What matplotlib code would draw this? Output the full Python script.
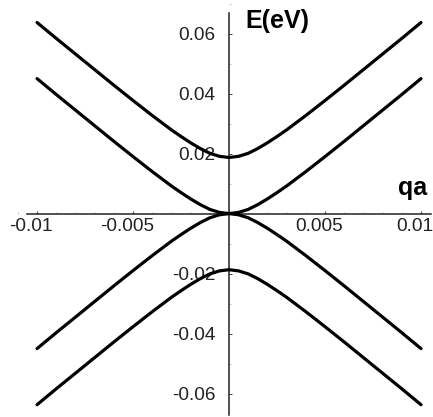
import numpy as np
import matplotlib
matplotlib.use('Agg')
import matplotlib.pyplot as plt
import matplotlib.transforms as mtransforms
from matplotlib.ticker import MultipleLocator

plt.rcParams['font.family'] = ['Liberation Sans', 'DejaVu Sans']

# wave vector (qa) and the four energy bands in eV
qa = [-0.01, -0.009, -0.008, -0.007, -0.006, -0.005, -0.004, -0.003,
      -0.0025, -0.002, -0.0015, -0.001, -0.0005, 0.0,
      0.0005, 0.001, 0.0015, 0.002, 0.0025,
      0.003, 0.004, 0.005, 0.006, 0.007, 0.008, 0.009, 0.01]

band_outer_up = [0.0637, 0.0584, 0.0532, 0.0480, 0.0428, 0.0377, 0.0327, 0.0279,
                 0.0257, 0.0236, 0.0217, 0.0201, 0.0191, 0.0187,
                 0.0191, 0.0201, 0.0217, 0.0236, 0.0257,
                 0.0279, 0.0327, 0.0377, 0.0428, 0.0480, 0.0532, 0.0584, 0.0637]
band_inner_up = [0.0450, 0.0397, 0.0345, 0.0293, 0.0241, 0.0190, 0.0140, 0.0092,
                 0.0070, 0.0049, 0.0030, 0.0014, 0.0004, 0.0,
                 0.0004, 0.0014, 0.0030, 0.0049, 0.0070,
                 0.0092, 0.0140, 0.0190, 0.0241, 0.0293, 0.0345, 0.0397, 0.0450]
band_inner_down = [-0.0450, -0.0397, -0.0345, -0.0293, -0.0241, -0.0190, -0.0140, -0.0092,
                   -0.0070, -0.0049, -0.0030, -0.0014, -0.0004, 0.0,
                   -0.0004, -0.0014, -0.0030, -0.0049, -0.0070,
                   -0.0092, -0.0140, -0.0190, -0.0241, -0.0293, -0.0345, -0.0397, -0.0450]
band_outer_down = [-0.0637, -0.0584, -0.0532, -0.0480, -0.0428, -0.0377, -0.0327, -0.0279,
                   -0.0257, -0.0236, -0.0217, -0.0201, -0.0191, -0.0187,
                   -0.0191, -0.0201, -0.0217, -0.0236, -0.0257,
                   -0.0279, -0.0327, -0.0377, -0.0428, -0.0480, -0.0532, -0.0584, -0.0637]

x_ticks = [-0.01, -0.005, 0.005, 0.01]
x_labels = ['-0.01', '-0.005', '0.005', '0.01']
y_ticks = [-0.06, -0.04, -0.02, 0.02, 0.04, 0.06]
y_labels = ['-0.06', '-0.04', '-0.02', '0.02', '0.04', '0.06']

fig = plt.figure(figsize=(4.33, 4.17), dpi=100)
ax = fig.add_axes([0, 0, 1, 1])

for band in [band_outer_up, band_inner_up, band_inner_down, band_outer_down]:
    ax.plot(qa, band, color='black', lw=2.3, solid_capstyle='round', zorder=3)

ax.set_xlim(-0.01193, 0.010625)
ax.set_ylim(-0.0678, 0.0712)

# axes crossing at the origin
for s in ['top', 'right']:
    ax.spines[s].set_visible(False)
ax.spines['left'].set_position(('data', 0))
ax.spines['bottom'].set_position(('data', 0))
ax.spines['left'].set_bounds(-0.067, 0.067)
ax.spines['bottom'].set_bounds(-0.0105, 0.0105)
for s in ['left', 'bottom']:
    ax.spines[s].set_linewidth(1.1)
    ax.spines[s].set_color('#222222')

ax.set_xticks(x_ticks)
ax.set_xticklabels(x_labels)
ax.set_yticks(y_ticks)
ax.set_yticklabels(y_labels)
ax.xaxis.set_minor_locator(MultipleLocator(0.001))
ax.yaxis.set_minor_locator(MultipleLocator(0.01))
ax.tick_params(axis='both', which='major', direction='in', length=2.5, width=0.7,
               colors='#444444', labelsize=13.7, labelcolor='#222222')
ax.tick_params(axis='both', which='minor', direction='in', length=1.5, width=0.5,
               colors='#aaaaaa')
ax.tick_params(axis='x', pad=3)
ax.tick_params(axis='y', pad=10)

# x labels sit a little left of their ticks
shift = mtransforms.ScaledTranslation(-6 / 100, 0, fig.dpi_scale_trans)
for lbl in ax.get_xticklabels():
    lbl.set_transform(lbl.get_transform() + shift)

ax.text(0.566, 0.933, 'E(eV)', transform=ax.transAxes, fontsize=18,
        fontweight='bold', ha='left', va='baseline')
ax.text(0.952, 0.532, 'qa', transform=ax.transAxes, fontsize=18,
        fontweight='bold', ha='center', va='baseline')

fig.savefig('out.png', dpi=100)
